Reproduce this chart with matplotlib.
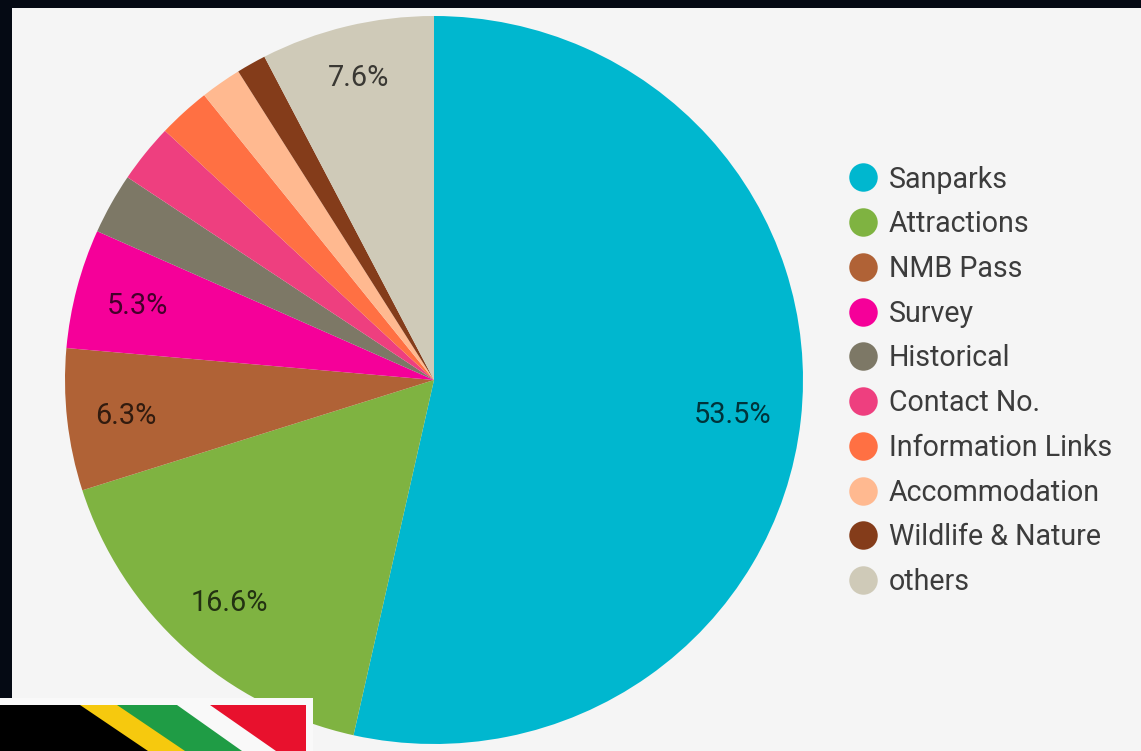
import numpy as np
import matplotlib
matplotlib.use("Agg")
import matplotlib.pyplot as plt
from matplotlib.lines import Line2D
from matplotlib.patches import Polygon, Rectangle

plt.rcParams['font.family'] = ['Roboto', 'DejaVu Sans']

labels = ['Sanparks', 'Attractions', 'NMB Pass', 'Survey', 'Historical',
          'Contact No.', 'Information Links', 'Accommodation',
          'Wildlife & Nature', 'others']
values = [53.5, 16.6, 6.3, 5.3, 2.7, 2.6, 2.3, 1.8, 1.3, 7.6]
colors = ['#00b7cf', '#7fb341', '#b06236', '#f50099', '#7d7866',
          '#ee3f7f', '#ff7043', '#ffb990', '#843c1a', '#cfcab8']

W, H = 1141, 751
# the screenshot is a little squashed vertically, so the pie is an ellipse
SQUASH = 369 / 364
fig = plt.figure(figsize=(W / 100, H / 100), dpi=100, facecolor='#f5f5f5')
ax = fig.add_axes([0, 0, 1, 1])


# picture y runs downwards, axes y upwards
def py(y):
    return (H - y) * SQUASH


wedges, texts, autotexts = ax.pie(
    values, colors=colors, startangle=90, counterclock=False,
    center=(434, py(380)), radius=369, frame=True,
    autopct=lambda p: '%.1f%%' % p if p >= 5 else '',
    pctdistance=0.815,
    wedgeprops={'linewidth': 0},
    textprops={'fontsize': 20.8, 'color': '#000000', 'alpha': 0.72})

# the small slices carry their label further out
label_r = [0.815, 0.82, 0.84, 0.83, 0.8, 0.8, 0.8, 0.8, 0.8, 0.862]
for w, t, r in zip(wedges, autotexts, label_r):
    a = np.deg2rad((w.theta1 + w.theta2) / 2)
    t.set_position((434 + 369 * r * np.cos(a), py(382.5) + 369 * r * np.sin(a)))

ax.set_xlim(0, W)
ax.set_ylim(0, py(0))
ax.set_aspect('auto')
ax.axis('off')

# dark page behind the card
dark = '#050a14'
ax.add_patch(Rectangle((0, py(8)), W, py(0) - py(8), fc=dark, ec='none', zorder=5))
ax.add_patch(Rectangle((0, py(698)), 12, py(8) - py(698), fc=dark, ec='none', zorder=5))

# flag strip at the bottom left
ax.add_patch(Rectangle((0, 0), 313, py(698), fc='#f9f9f9', ec='none', zorder=6))
ax.add_patch(Rectangle((0, 0), 306, py(705), fc='#e8112d', ec='none', zorder=7))


def band(x1, x2, color, z):
    pts = [(0, py(705)), (x1, py(705)), (x2, py(751)), (0, py(751))]
    ax.add_patch(Polygon(pts, closed=True, fc=color, ec='none', zorder=z))


band(210, 276, '#f9f9f9', 7.1)
band(177, 242, '#1f9c45', 7.2)
band(117, 185, '#f6c90e', 7.3)
band(80, 148, '#000000', 7.4)

handles = [Line2D([], [], linestyle='none', marker='o', markersize=20.5,
                  markerfacecolor=c, markeredgewidth=0) for c in colors]
leg = ax.legend(handles, labels, loc='upper left',
                bbox_to_anchor=(848.2 / W, 1 - 165.5 / H), frameon=False,
                fontsize=20.6, labelcolor='#3c3c3c', labelspacing=0.585,
                handlelength=1.0, handletextpad=0.42, borderpad=0, borderaxespad=0)

fig.savefig('out.png', dpi=100, facecolor=fig.get_facecolor())
